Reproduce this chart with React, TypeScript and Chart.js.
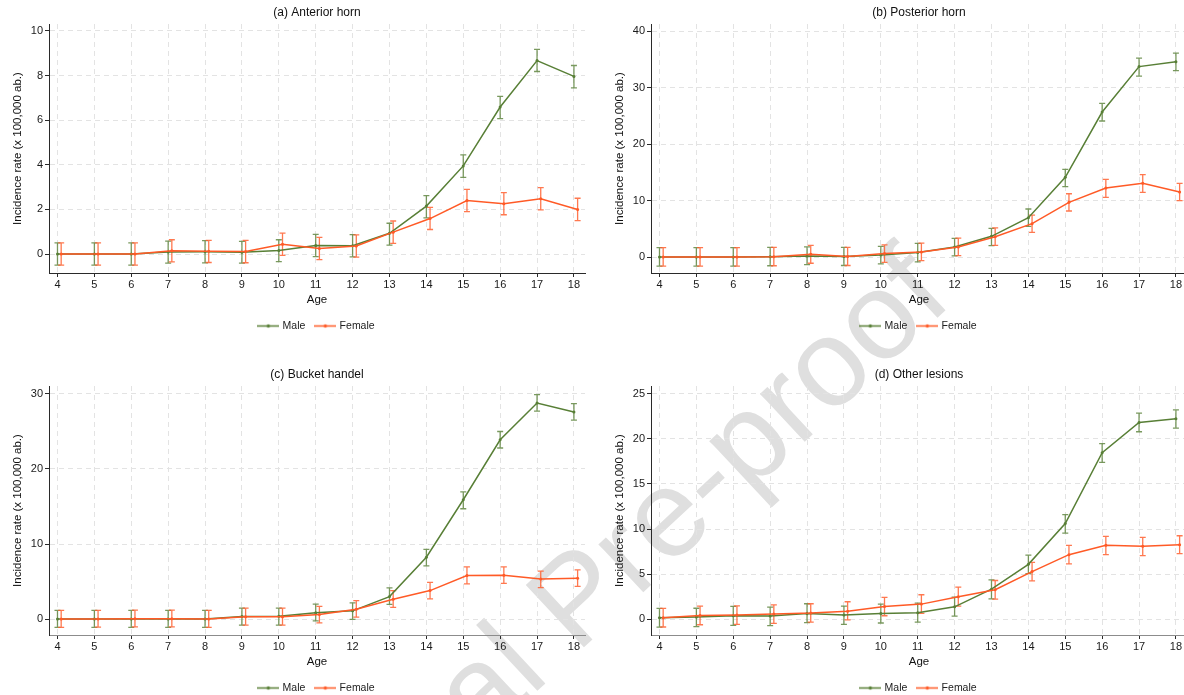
import React, { useEffect, useRef } from 'react';
import { Chart, registerables } from 'chart.js';

Chart.register(...registerables);

// ---------- data ----------
const ages = [4, 5, 6, 7, 8, 9, 10, 11, 12, 13, 14, 15, 16, 17, 18];
const femaleShift = 0.1; // female points are drawn slightly right of the age tick
const seriesLabels = ['Male', 'Female'];
const panelTitles = ['(a) Anterior horn', '(b) Posterior horn', '(c) Bucket handel', '(d) Other lesions'];
const xAxisTitle = 'Age';
const yAxisTitle = 'Incidence rate (x 100,000 ab.)';
const watermarkText = 'Journal Pre-proof';

const yTicksA = [0, 2, 4, 6, 8, 10];
const yTicksB = [0, 10, 20, 30, 40];
const yTicksC = [0, 10, 20, 30];
const yTicksD = [0, 5, 10, 15, 20, 25];

// (a) Anterior horn
const anteriorMale = [0, 0, 0, 0.09, 0.1, 0.08, 0.16, 0.38, 0.37, 0.93, 2.15, 3.95, 6.59, 8.67, 7.96];
const anteriorMaleLow = [-0.5, -0.5, -0.5, -0.41, -0.4, -0.41, -0.34, -0.12, -0.13, 0.4, 1.62, 3.44, 6.07, 8.18, 7.45];
const anteriorMaleHigh = [0.5, 0.5, 0.5, 0.58, 0.6, 0.57, 0.64, 0.88, 0.87, 1.38, 2.62, 4.44, 7.07, 9.17, 8.45];
const anteriorFemale = [0, 0, 0, 0.15, 0.12, 0.11, 0.44, 0.25, 0.36, 0.98, 1.59, 2.4, 2.25, 2.48, 2.0];
const anteriorFemaleLow = [-0.5, -0.5, -0.5, -0.35, -0.38, -0.39, -0.06, -0.25, -0.14, 0.48, 1.1, 1.9, 1.76, 1.98, 1.5];
const anteriorFemaleHigh = [0.5, 0.5, 0.5, 0.64, 0.61, 0.61, 0.94, 0.75, 0.86, 1.48, 2.09, 2.9, 2.75, 2.98, 2.5];

// (b) Posterior horn
const posteriorMale = [0, 0, 0, 0.05, 0.2, 0.1, 0.35, 0.8, 1.77, 3.66, 6.96, 14.1, 25.66, 33.7, 34.57];
const posteriorMaleLow = [-1.6, -1.6, -1.6, -1.55, -1.35, -1.5, -1.2, -0.85, 0.2, 2.0, 5.43, 12.45, 24.07, 32.0, 32.98];
const posteriorMaleHigh = [1.65, 1.65, 1.65, 1.7, 1.8, 1.7, 1.9, 2.4, 3.3, 5.07, 8.5, 15.5, 27.2, 35.2, 36.1];
const posteriorFemale = [0, 0, 0, 0.05, 0.47, 0.1, 0.6, 0.88, 1.77, 3.6, 5.9, 9.68, 12.2, 13.04, 11.5];
const posteriorFemaleLow = [-1.6, -1.6, -1.6, -1.55, -1.1, -1.5, -0.95, -0.65, 0.24, 2.05, 4.37, 8.14, 10.56, 11.45, 9.97];
const posteriorFemaleHigh = [1.65, 1.65, 1.65, 1.7, 2.05, 1.7, 2.15, 2.45, 3.35, 5.15, 7.43, 11.2, 13.75, 14.57, 13.04];

// (c) Bucket handel
const bucketMale = [0, 0, 0, 0, 0, 0.35, 0.38, 0.85, 1.1, 3.0, 8.25, 15.9, 23.9, 28.8, 27.6];
const bucketMaleLow = [-1.1, -1.1, -1.1, -1.1, -1.1, -0.8, -0.8, -0.25, -0.05, 1.95, 7.1, 14.7, 22.8, 27.7, 26.5];
const bucketMaleHigh = [1.15, 1.15, 1.15, 1.15, 1.15, 1.45, 1.45, 2.0, 2.15, 4.15, 9.3, 16.95, 25.0, 29.9, 28.7];
const bucketFemale = [0, 0.02, 0.05, 0.05, 0, 0.3, 0.3, 0.62, 1.3, 2.65, 3.8, 5.8, 5.85, 5.35, 5.45];
const bucketFemaleLow = [-1.1, -1.08, -1.05, -1.05, -1.1, -0.8, -0.8, -0.5, 0.25, 1.55, 2.7, 4.7, 4.75, 4.2, 4.35];
const bucketFemaleHigh = [1.15, 1.17, 1.2, 1.2, 1.15, 1.45, 1.45, 1.7, 2.45, 3.8, 4.9, 6.95, 6.97, 6.4, 6.55];

// (d) Other lesions
const otherMale = [0.15, 0.22, 0.37, 0.35, 0.63, 0.44, 0.62, 0.7, 1.36, 3.32, 6.08, 10.6, 18.47, 21.83, 22.23];
const otherMaleLow = [-0.9, -0.85, -0.7, -0.74, -0.4, -0.6, -0.44, -0.33, 0.33, 2.25, 5.05, 9.55, 17.4, 20.8, 21.2];
const otherMaleHigh = [1.18, 1.2, 1.4, 1.33, 1.7, 1.44, 1.66, 1.77, 2.43, 4.35, 7.1, 11.6, 19.47, 22.86, 23.23];
const otherFemale = [0.15, 0.4, 0.44, 0.55, 0.66, 0.88, 1.4, 1.66, 2.47, 3.25, 5.27, 7.15, 8.19, 8.08, 8.26];
const otherFemaleLow = [-0.88, -0.63, -0.6, -0.48, -0.33, -0.1, 0.37, 0.63, 1.44, 2.21, 4.24, 6.12, 7.15, 7.04, 7.26];
const otherFemaleHigh = [1.18, 1.44, 1.47, 1.58, 1.7, 1.92, 2.4, 2.7, 3.54, 4.28, 6.3, 8.19, 9.18, 9.07, 9.25];

// ---------- styling ----------
const MALE = '#587f36';
const MALE_BAR = 'rgba(88,127,54,0.8)';
const FEMALE = '#ff5a26';
const FEMALE_BAR = 'rgba(255,96,48,0.85)';
const FONT = "'Liberation Sans', Arial, Helvetica, sans-serif";

const panels = [
  { title: panelTitles[0], yTicks: yTicksA, yMin: -0.85, yMax: 10.31, male: anteriorMale, maleLow: anteriorMaleLow, maleHigh: anteriorMaleHigh, female: anteriorFemale, femaleLow: anteriorFemaleLow, femaleHigh: anteriorFemaleHigh, left: 0, top: 0, xBorder: '#2a2a2a' },
  { title: panelTitles[1], yTicks: yTicksB, yMin: -2.83, yMax: 41.24, male: posteriorMale, maleLow: posteriorMaleLow, maleHigh: posteriorMaleHigh, female: posteriorFemale, femaleLow: posteriorFemaleLow, femaleHigh: posteriorFemaleHigh, left: 602, top: 0, xBorder: '#2a2a2a' },
  { title: panelTitles[2], yTicks: yTicksC, yMin: -2.12, yMax: 31.06, male: bucketMale, maleLow: bucketMaleLow, maleHigh: bucketMaleHigh, female: bucketFemale, femaleLow: bucketFemaleLow, femaleHigh: bucketFemaleHigh, left: 0, top: 362, xBorder: '#8c8c8c' },
  { title: panelTitles[3], yTicks: yTicksD, yMin: -1.77, yMax: 25.88, male: otherMale, maleLow: otherMaleLow, maleHigh: otherMaleHigh, female: otherFemale, femaleLow: otherFemaleLow, femaleHigh: otherFemaleHigh, left: 602, top: 362, xBorder: '#8c8c8c' },
];

const CANVAS_W = 634;
const CANVAS_H = 345;

const errorBarPlugin = {
  id: 'errorBars',
  beforeDatasetsDraw(chart: any) {
    const { ctx, scales } = chart;
    const x = scales.x;
    const y = scales.y;
    chart.data.datasets.forEach((ds: any) => {
      if (!ds.errLow) return;
      ctx.save();
      ctx.strokeStyle = ds.errColor;
      ctx.lineWidth = 1.3;
      ds.data.forEach((pt: any, j: number) => {
        const px = x.getPixelForValue(pt.x);
        const yl = y.getPixelForValue(ds.errLow[j]);
        const yh = y.getPixelForValue(ds.errHigh[j]);
        ctx.beginPath();
        ctx.moveTo(px, yl);
        ctx.lineTo(px, yh);
        ctx.moveTo(px - 3, yl);
        ctx.lineTo(px + 3, yl);
        ctx.moveTo(px - 3, yh);
        ctx.lineTo(px + 3, yh);
        ctx.stroke();
      });
      ctx.restore();
    });
  },
};

function makeLegendIcon(color: string) {
  const c = document.createElement('canvas');
  c.width = 22;
  c.height = 7;
  const g = c.getContext('2d')!;
  g.strokeStyle = color;
  g.lineWidth = 1.5;
  g.beginPath();
  g.moveTo(0, 3.5);
  g.lineTo(22, 3.5);
  g.stroke();
  g.fillStyle = color;
  g.beginPath();
  g.arc(11, 3.5, 1.7, 0, Math.PI * 2);
  g.fill();
  return c;
}

export default function App() {
  const refs = useRef<(HTMLCanvasElement | null)[]>([]);

  useEffect(() => {
    const icons = [makeLegendIcon(MALE), makeLegendIcon(FEMALE)];
    const charts = panels.map((p, idx) => {
      const canvas = refs.current[idx]!;
      return new Chart(canvas, {
        type: 'line',
        data: {
          datasets: [
            {
              label: seriesLabels[0],
              data: ages.map((a, i) => ({ x: a, y: p.male[i] })),
              borderColor: MALE,
              backgroundColor: MALE,
              borderWidth: 1.5,
              pointRadius: 1.5,
              pointBorderWidth: 0,
              pointBackgroundColor: MALE,
              tension: 0,
              order: 1,
              errLow: p.maleLow,
              errHigh: p.maleHigh,
              errColor: MALE_BAR,
            } as any,
            {
              label: seriesLabels[1],
              data: ages.map((a, i) => ({ x: a + femaleShift, y: p.female[i] })),
              borderColor: FEMALE,
              backgroundColor: FEMALE,
              borderWidth: 1.5,
              pointRadius: 1.5,
              pointBorderWidth: 0,
              pointBackgroundColor: FEMALE,
              tension: 0,
              order: 0,
              errLow: p.femaleLow,
              errHigh: p.femaleHigh,
              errColor: FEMALE_BAR,
            } as any,
          ],
        },
        options: {
          responsive: false,
          animation: false,
          devicePixelRatio: 1,
          events: [],
          layout: { padding: { left: 0, right: 0, top: 0, bottom: 3.75 } },
          plugins: {
            title: {
              display: true,
              text: p.title,
              color: '#111',
              font: { family: FONT, size: 12, weight: 'normal' },
              padding: { top: 5.8, bottom: 3.8 },
            },
            legend: {
              position: 'bottom',
              labels: {
                usePointStyle: true,
                pointStyleWidth: 18,
                padding: 11,
                color: '#222',
                font: { family: FONT, size: 10.5 },
                generateLabels: (chart: any) =>
                  chart.data.datasets.map((ds: any, i: number) => ({
                    text: ds.label,
                    pointStyle: icons[i],
                    fillStyle: 'rgba(0,0,0,0)',
                    strokeStyle: 'rgba(0,0,0,0)',
                    lineWidth: 0,
                    hidden: false,
                    datasetIndex: i,
                    fontColor: '#222',
                  })),
              },
            },
            tooltip: { enabled: false },
          },
          scales: {
            x: {
              type: 'linear',
              min: 3.77,
              max: 18.3,
              afterBuildTicks: (s: any) => {
                s.ticks = ages.map((v) => ({ value: v }));
              },
              afterFit: (s: any) => {
                s.height = 36.75;
              },
              ticks: {
                autoSkip: false,
                maxRotation: 0,
                padding: 1.4,
                color: '#1a1a1a',
                font: { family: FONT, size: 11 },
                callback: (v: any) => String(v),
              },
              grid: { color: '#e3e3e3', lineWidth: 1, tickLength: 4, tickColor: '#2a2a2a', tickWidth: 1 },
              border: { color: p.xBorder, width: 1, dash: [5, 4] },
              title: {
                display: true,
                text: xAxisTitle,
                color: '#111',
                font: { family: FONT, size: 11.5 },
                padding: { top: 0, bottom: 2.85 },
              },
            },
            y: {
              type: 'linear',
              position: 'left',
              min: p.yMin,
              max: p.yMax,
              afterBuildTicks: (s: any) => {
                s.ticks = p.yTicks.map((v) => ({ value: v }));
              },
              afterFit: (s: any) => {
                s.width = 49;
              },
              ticks: {
                padding: 2,
                color: '#1a1a1a',
                font: { family: FONT, size: 11 },
                callback: (v: any) => String(v),
              },
              grid: { color: '#e3e3e3', lineWidth: 1, tickLength: 4, tickColor: '#2a2a2a', tickWidth: 1 },
              border: { color: '#2a2a2a', width: 1, dash: [5, 4] },
              title: {
                display: true,
                text: yAxisTitle,
                color: '#111',
                font: { family: FONT, size: 11.5 },
                padding: { top: 11.1, bottom: 0 },
              },
            },
            // invisible right-hand spacer so the title and legend centre on the plot area
            spacer: {
              type: 'linear',
              position: 'right',
              min: 0,
              max: 1,
              grid: { display: false, drawTicks: false },
              border: { display: false },
              ticks: { display: false },
              title: { display: false },
              afterFit: (s: any) => {
                s.width = 49;
              },
            },
          },
        } as any,
        plugins: [errorBarPlugin],
      });
    });
    return () => charts.forEach((c) => c.destroy());
  }, []);

  return (
    <div
      style={{
        position: 'absolute',
        left: 0,
        top: 0,
        width: 1184,
        height: 695,
        overflow: 'hidden',
        background: '#ffffff',
      }}
    >
      <div
        style={{
          position: 'absolute',
          left: 575,
          top: 597,
          transform: 'translate(-50%, -50%) rotate(-43deg)',
          fontFamily: FONT,
          fontSize: 124,
          lineHeight: 1,
          color: '#dfdfdf',
          whiteSpace: 'nowrap',
        }}
      >
        {watermarkText}
      </div>
      {panels.map((p, idx) => (
        <canvas
          key={idx}
          ref={(el) => {
            refs.current[idx] = el;
          }}
          width={CANVAS_W}
          height={CANVAS_H}
          style={{
            position: 'absolute',
            left: p.left,
            top: p.top,
            width: CANVAS_W,
            height: CANVAS_H,
          }}
        />
      ))}
    </div>
  );
}
